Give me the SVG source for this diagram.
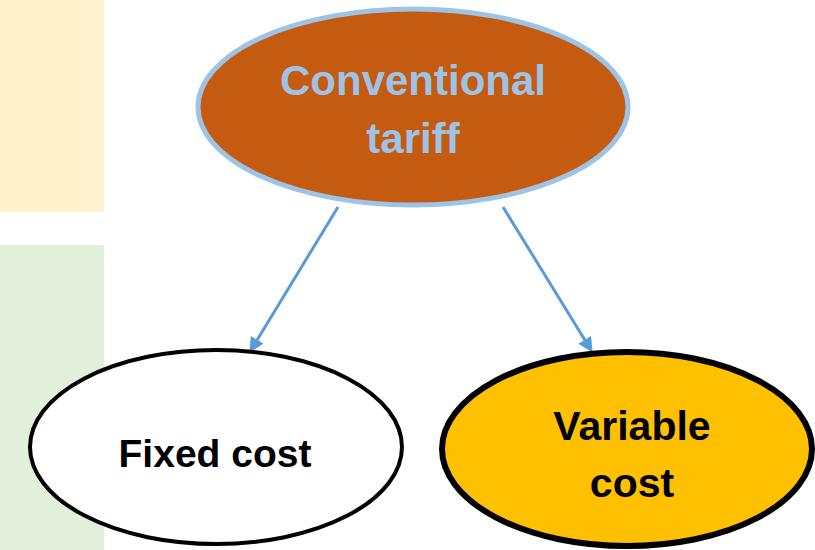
<svg xmlns="http://www.w3.org/2000/svg" width="815" height="550" viewBox="0 0 815 550">
  <style>
    .lbl { font-family: "Liberation Sans", Arial, sans-serif; font-weight: bold; text-anchor: middle; }
    .edge { stroke: #5B9BD5; stroke-width: 3; fill: none; marker-end: url(#arrow); }
  </style>
  <defs>
    <marker id="arrow" viewBox="0 0 10 10" refX="8" refY="5" markerWidth="5" markerHeight="5" orient="auto" markerUnits="strokeWidth">
      <path d="M0,0 L10,5 L0,10 Z" fill="#5B9BD5"/>
    </marker>
  </defs>

  <rect width="815" height="550" fill="#FFFFFF"/>

  <!-- side panels -->
  <rect x="0" y="0" width="104" height="212" fill="#FFF2CC"/>
  <rect x="0" y="245" width="104" height="305" fill="#E2EFDA"/>

  <!-- connectors -->
  <g id="connectors">
    <line class="edge" x1="338" y1="207" x2="251" y2="350"/>
    <line class="edge" x1="503" y1="207" x2="591" y2="350"/>
  </g>

  <g id="conventional-tariff">
    <ellipse cx="413" cy="107" rx="215" ry="98" fill="#C55A11" stroke="#9DC3E6" stroke-width="5"/>
    <text class="lbl" x="413" y="95" font-size="42" fill="#9DC3E6">Conventional</text>
    <text class="lbl" x="413" y="153" font-size="42" fill="#9DC3E6">tariff</text>
  </g>

  <g id="fixed-cost">
    <ellipse cx="216" cy="447" rx="186" ry="97" fill="#FFFFFF" stroke="#000000" stroke-width="4"/>
    <text class="lbl" x="215" y="467" font-size="39" fill="#000000">Fixed cost</text>
  </g>

  <g id="variable-cost">
    <ellipse cx="627" cy="449" rx="185" ry="97" fill="#FFC000" stroke="#000000" stroke-width="6"/>
    <text class="lbl" x="632" y="440" font-size="41" fill="#000000">Variable</text>
    <text class="lbl" x="632" y="497" font-size="41" fill="#000000">cost</text>
  </g>
</svg>
